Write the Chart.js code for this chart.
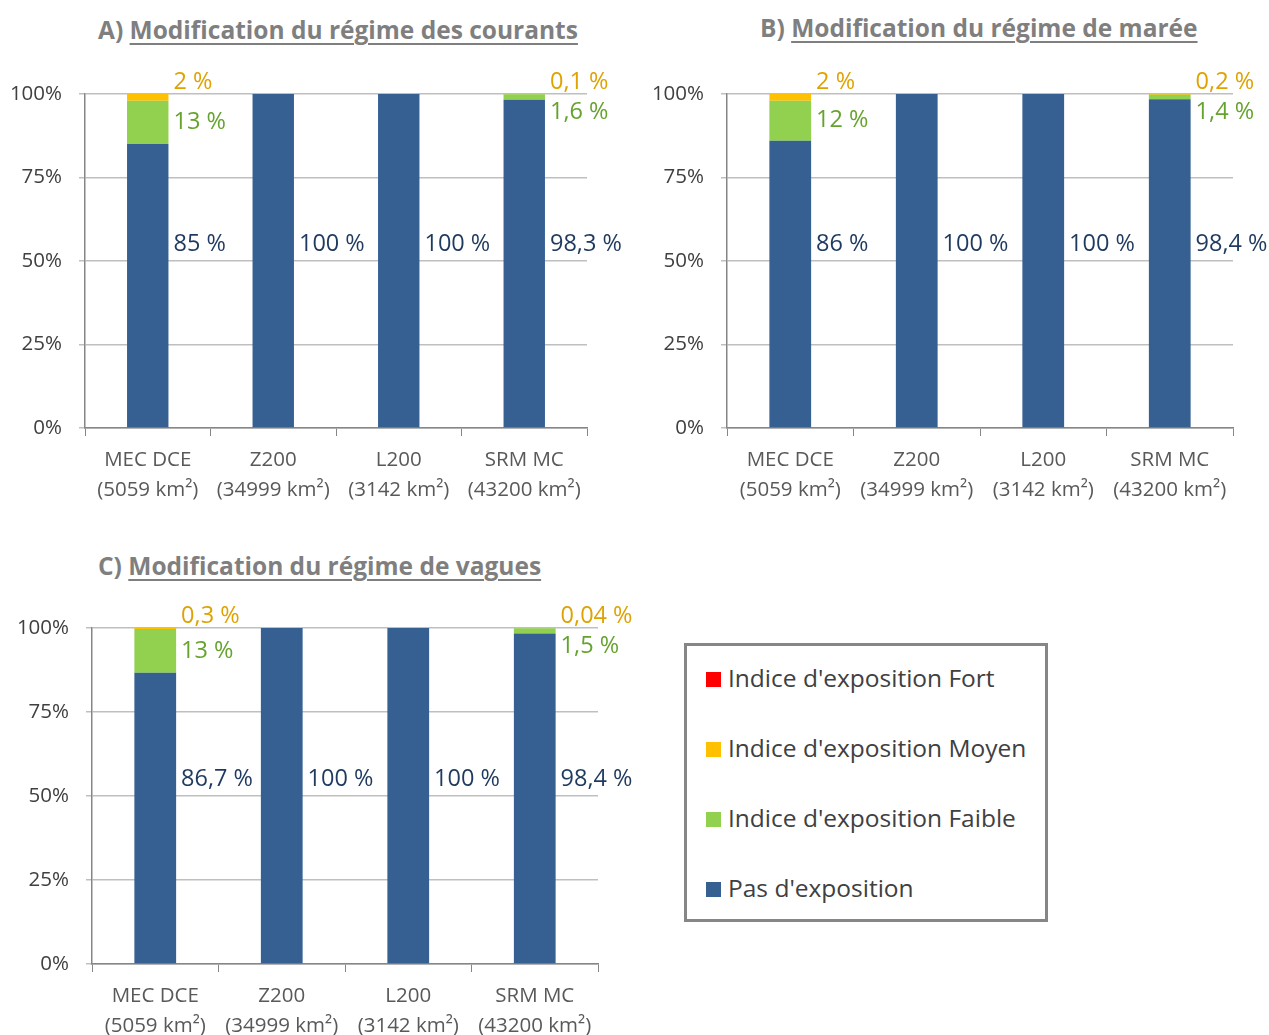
<!DOCTYPE html>
<html>
<head>
<meta charset="utf-8">
<script src="https://cdn.jsdelivr.net/npm/chart.js@4"></script>
<style>
  body { margin: 0; background: #fff; font-family: "Open Sans", sans-serif; }
  #page { position: relative; width: 1269px; height: 1035px; overflow: hidden; }
  .box { position: absolute; }
  .title { position: absolute; font-weight: 700; font-size: 24.5px; color: #7f7f7f; white-space: nowrap; line-height: 30px; }
  .title span { text-decoration: underline; text-underline-offset: 4px; text-decoration-thickness: 2px; }
  #legend { position: absolute; left: 684px; top: 643px; width: 358px; height: 273px; border: 3px solid #868686; }
  .item { position: absolute; left: 19px; height: 30px; line-height: 30px; font-size: 24.5px; color: #404040; white-space: nowrap; }
  .item i { display: inline-block; width: 15px; height: 15px; margin-right: 7px; vertical-align: 0px; }
</style>
</head>
<body>
<div id="page">
  <div class="title" style="left:98px; top:15px;">A) <span>Modification du régime des courants</span></div>
  <div class="title" style="left:760px; top:13px;">B) <span>Modification du régime de marée</span></div>
  <div class="title" style="left:98px; top:551px;">C) <span>Modification du régime de vagues</span></div>
  <div class="box" style="left:0; top:60px; width:640px; height:450px;"><canvas id="chartA"></canvas></div>
  <div class="box" style="left:640px; top:60px; width:629px; height:450px;"><canvas id="chartB"></canvas></div>
  <div class="box" style="left:0; top:590px; width:640px; height:445px;"><canvas id="chartC"></canvas></div>
  <div id="legend"></div>
</div>
<script>
const categories = [
  ['MEC DCE', '(5059 km²)'],
  ['Z200', '(34999 km²)'],
  ['L200', '(3142 km²)'],
  ['SRM MC', '(43200 km²)']
];
const seriesNames = ['Pas d\'exposition', 'Indice d\'exposition Faible', 'Indice d\'exposition Moyen', 'Indice d\'exposition Fort'];
const seriesColors = ['#366092', '#92d050', '#ffc000', '#ff0000'];
const labelColors = ['#1f3a5f', '#66a32e', '#dfa200', '#ff0000'];
const yTicks = [0, 25, 50, 75, 100];

// A) courants
const courantsPas = [85, 100, 100, 98.3];
const courantsFaible = [13, 0, 0, 1.6];
const courantsMoyen = [2, 0, 0, 0.1];
const courantsFort = [0, 0, 0, 0];
// B) marée
const mareePas = [86, 100, 100, 98.4];
const mareeFaible = [12, 0, 0, 1.4];
const mareeMoyen = [2, 0, 0, 0.2];
const mareeFort = [0, 0, 0, 0];
// C) vagues
const vaguesPas = [86.7, 100, 100, 98.4];
const vaguesFaible = [13, 0, 0, 1.5];
const vaguesMoyen = [0.3, 0, 0, 0.04];
const vaguesFort = [0, 0, 0, 0];

const fmt = v => String(v).replace('.', ',') + ' %';

const barLabels = {
  id: 'barLabels',
  afterDatasetsDraw(chart) {
    const ctx = chart.ctx;
    const y = chart.scales.y;
    ctx.save();
    ctx.font = '23.5px "Open Sans"';
    ctx.textBaseline = 'middle';
    ctx.textAlign = 'left';
    chart.data.datasets.forEach((ds, di) => {
      const meta = chart.getDatasetMeta(di);
      meta.data.forEach((bar, i) => {
        const v = ds.data[i];
        if (!v) return;
        const right = bar.x + bar.width / 2;
        let yy;
        if (di === 0) yy = y.getPixelForValue(55);
        else if (di === 1) yy = Math.max((bar.y + bar.base) / 2, y.getPixelForValue(100) + 18);
        else yy = y.getPixelForValue(100) - 12;
        ctx.fillStyle = labelColors[di];
        ctx.fillText(fmt(v), right + 5, yy);
      });
    });
    ctx.restore();
  }
};

function makeChart(id, series, yWidth, padRight, padTop, xHeight, xPad) {
  return new Chart(document.getElementById(id), {
    type: 'bar',
    data: {
      labels: categories,
      datasets: series.map((data, i) => ({
        label: seriesNames[i],
        data: data,
        backgroundColor: seriesColors[i],
        borderWidth: 0,
        barPercentage: 0.33,
        categoryPercentage: 1
      }))
    },
    options: {
      responsive: true,
      maintainAspectRatio: false,
      animation: false,
      layout: { padding: { top: padTop, right: padRight, left: 0, bottom: 0 } },
      plugins: { legend: { display: false }, tooltip: { enabled: false } },
      scales: {
        x: {
          stacked: true,
          afterFit: s => { s.height = xHeight; },
          grid: { drawOnChartArea: false, drawTicks: true, tickLength: 8, color: '#868686' },
          border: { display: true, color: '#868686', width: 1.5 },
          ticks: { color: '#595959', padding: xPad, font: { family: 'Open Sans', size: 20.5, lineHeight: '30px' }, maxRotation: 0, autoSkip: false }
        },
        y: {
          stacked: true,
          min: 0,
          max: 100,
          afterFit: s => { s.width = yWidth; },
          afterBuildTicks: s => { s.ticks = yTicks.map(v => ({ value: v })); },
          grid: { color: '#bfbfbf', lineWidth: 1.5, tickLength: 6, drawTicks: true },
          border: { display: true, color: '#868686', width: 1.5 },
          ticks: { color: '#404040', padding: 17, font: { family: 'Open Sans', size: 20.5 }, callback: v => v + '%' }
        }
      }
    },
    plugins: [barLabels]
  });
}

makeChart('chartA', [courantsPas, courantsFaible, courantsMoyen, courantsFort], 85, 53, 34, 82, 9);
makeChart('chartB', [mareePas, mareeFaible, mareeMoyen, mareeFort], 87, 36, 34, 82, 9);
makeChart('chartC', [vaguesPas, vaguesFaible, vaguesMoyen, vaguesFort], 92, 42, 38, 71, 9);

// legend, top entry first
const legend = document.getElementById('legend');
[3, 2, 1, 0].forEach((si, row) => {
  const item = document.createElement('div');
  item.className = 'item';
  item.style.top = (32 + 70 * row - 15) + 'px';
  item.innerHTML = '<i style="background:' + seriesColors[si] + '"></i>' + seriesNames[si];
  legend.appendChild(item);
});
</script>
</body>
</html>
